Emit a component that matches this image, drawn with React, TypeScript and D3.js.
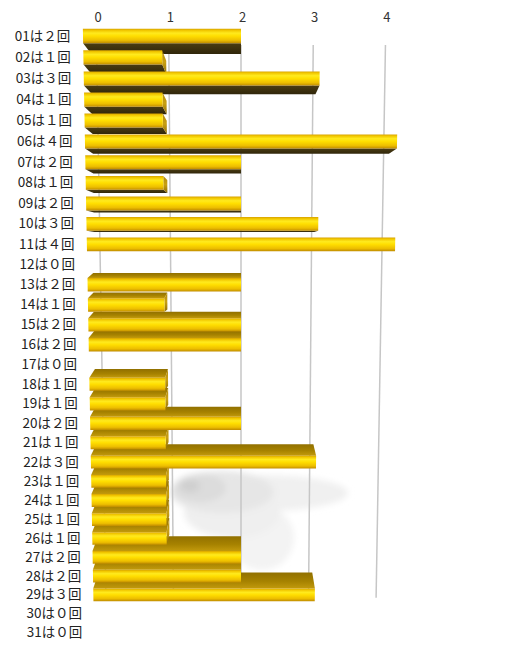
import { useEffect, useRef } from 'react'
import * as d3 from 'd3'

const days = [
  '01', '02', '03', '04', '05', '06', '07', '08', '09', '10',
  '11', '12', '13', '14', '15', '16', '17', '18', '19', '20',
  '21', '22', '23', '24', '25', '26', '27', '28', '29', '30', '31',
]
const counts = [2, 1, 3, 1, 1, 4, 2, 1, 2, 3, 4, 0, 2, 1, 2, 2, 0, 1, 1, 2, 1, 3, 1, 1, 1, 1, 2, 2, 3, 0, 0]
const ticks = [0, 1, 2, 3, 4]
const wideDigits = ['０', '１', '２', '３', '４']

const W = 510
const H = 653
// vanishing point of the 3D view
const VX = 241
const VY = 252
const UNDER_DEPTH = 0.055
const TOP_DEPTH = 0.04
const TOP_BEVEL = 4
const WALL_DEPTH = 0.095
const FONT = '"Noto Sans CJK JP", "Noto Sans", sans-serif'

type Pt = [number, number]

export default function App() {
  const svgRef = useRef<SVGSVGElement>(null)

  useEffect(() => {
    if (!svgRef.current) return
    const svg = d3.select(svgRef.current)
    svg.selectAll('*').remove()

    // world coordinates: value axis centred on 2, rows centred on the horizon
    const x = d3.scaleLinear().domain([0, 4]).range([-158, 158])
    const row = d3.scalePoint<string>().domain(days).range([-216, 408.5])
    const step = row.step()
    const zOf = d3.scaleLinear().domain([-216, 408.5]).range([1, 1.075])

    const proj = (wx: number, wy: number, depth = 0): Pt => {
      const z = zOf(wy) + depth
      return [VX + wx / z, VY + wy / z]
    }
    const lift = (p: Pt, dy: number): Pt => [p[0], p[1] - dy]
    const poly = (pts: Pt[]) => pts.map(p => `${p[0].toFixed(2)},${p[1].toFixed(2)}`).join(' ')

    const defs = svg.append('defs')
    const grad = (id: string, stops: [number, string][]) => {
      const g = defs.append('linearGradient').attr('id', id)
        .attr('x1', 0).attr('y1', 0).attr('x2', 0).attr('y2', 1)
      stops.forEach(([o, c]) => g.append('stop').attr('offset', o).attr('stop-color', c))
    }
    grad('front', [[0, '#d8a400'], [0.12, '#f2c800'], [0.3, '#ffea1e'], [0.5, '#ffde00'], [0.8, '#edbe00'], [1, '#c08c00']])
    grad('topface', [[0, '#917000'], [0.55, '#a68200'], [1, '#c29a0c']])
    grad('under', [[0, '#4a3c12'], [1, '#30260a']])
    grad('endface', [[0, '#b08a10'], [0.5, '#c9a012'], [1, '#8f6e08']])

    const blur = defs.append('filter').attr('id', 'soft')
      .attr('x', '-50%').attr('y', '-50%').attr('width', '200%').attr('height', '200%')
    blur.append('feGaussianBlur').attr('stdDeviation', 3)

    svg.append('rect').attr('width', W).attr('height', H).attr('fill', '#ffffff')

    // soft shadow cloud on the back wall
    const shadow = svg.append('g').attr('filter', 'url(#soft)')
    shadow.append('ellipse').attr('cx', 262).attr('cy', 493).attr('rx', 86).attr('ry', 18).attr('fill', '#f0f0f0')
    shadow.append('ellipse').attr('cx', 262).attr('cy', 538).attr('rx', 32).attr('ry', 32).attr('fill', '#f3f3f3')
    shadow.append('ellipse').attr('cx', 232).attr('cy', 512).attr('rx', 48).attr('ry', 26).attr('fill', '#efefef')
    shadow.append('ellipse').attr('cx', 222).attr('cy', 492).attr('rx', 52).attr('ry', 21).attr('fill', '#e6e6e6')
    shadow.append('ellipse').attr('cx', 200).attr('cy', 488).attr('rx', 26).attr('ry', 14).attr('fill', '#dcdcdc')
    shadow.append('ellipse').attr('cx', 190).attr('cy', 486).attr('rx', 10).attr('ry', 6).attr('fill', '#cfcfcf')

    // gridlines on the back wall
    const wallTop = row(days[0])! - step * 0.5
    const wallBot = row(days[days.length - 1])! - step * 0.2
    const grid = svg.append('g')
    ticks.forEach(t => {
      const a = proj(x(t), wallTop, WALL_DEPTH)
      const b = proj(x(t), wallBot, WALL_DEPTH)
      grid.append('line')
        .attr('x1', a[0]).attr('y1', a[1]).attr('x2', b[0]).attr('y2', b[1])
        .attr('stroke', '#c6c6c6').attr('stroke-width', 1.5)
      grid.append('text')
        .attr('x', a[0] + 1.5).attr('y', 22)
        .attr('text-anchor', 'middle')
        .attr('font-family', FONT).attr('font-size', 13).attr('fill', '#333')
        .text(String(t))
    })

    // category labels
    const labels = svg.append('g')
    days.forEach((d, i) => {
      const p = proj(x(-0.16), row(d)!)
      labels.append('text')
        .attr('x', p[0]).attr('y', p[1] + 4.5)
        .attr('text-anchor', 'end')
        .attr('font-family', FONT).attr('font-size', 13.5).attr('fill', '#222')
        .text(`${d}は${wideDigits[counts[i]]}回`)
    })

    // bars, painted from the rows farthest from the horizon inwards
    const halfH = 7
    const order = days.map((d, i) => ({ d, v: counts[i], wy: row(d)! }))
      .filter(r => r.v > 0)
      .sort((a, b) => Math.abs(b.wy) - Math.abs(a.wy))

    const bars = svg.append('g')
    order.forEach(r => {
      const top = r.wy - halfH
      const bot = r.wy + halfH
      const x0 = x(0)
      const x1 = x(r.v)
      const below = r.wy > 0
      const FTL = proj(x0, top), FTR = proj(x1, top)
      const FBL = proj(x0, bot), FBR = proj(x1, bot)
      const BTL = below ? lift(proj(x0, top, TOP_DEPTH), TOP_BEVEL) : proj(x0, top, UNDER_DEPTH)
      const BTR = below ? lift(proj(x1, top, TOP_DEPTH), TOP_BEVEL) : proj(x1, top, UNDER_DEPTH)
      const BBL = proj(x0, bot, below ? TOP_DEPTH : UNDER_DEPTH)
      const BBR = proj(x1, bot, below ? TOP_DEPTH : UNDER_DEPTH)
      const g = bars.append('g')
      if (below) {
        g.append('polygon').attr('points', poly([BTL, BTR, FTR, FTL])).attr('fill', 'url(#topface)')
      } else if (FBL[1] < VY) {
        g.append('polygon').attr('points', poly([FBL, FBR, BBR, BBL])).attr('fill', 'url(#under)')
      }
      if (FTR[0] < VX - 0.5) {
        g.append('polygon').attr('points', poly([FTR, BTR, BBR, FBR])).attr('fill', 'url(#endface)')
      }
      g.append('polygon').attr('points', poly([FTL, FTR, FBR, FBL])).attr('fill', 'url(#front)')
    })
  }, [])

  return (
    <svg
      ref={svgRef}
      width={W}
      height={H}
      style={{ position: 'absolute', left: 0, top: 0, display: 'block' }}
    />
  )
}
